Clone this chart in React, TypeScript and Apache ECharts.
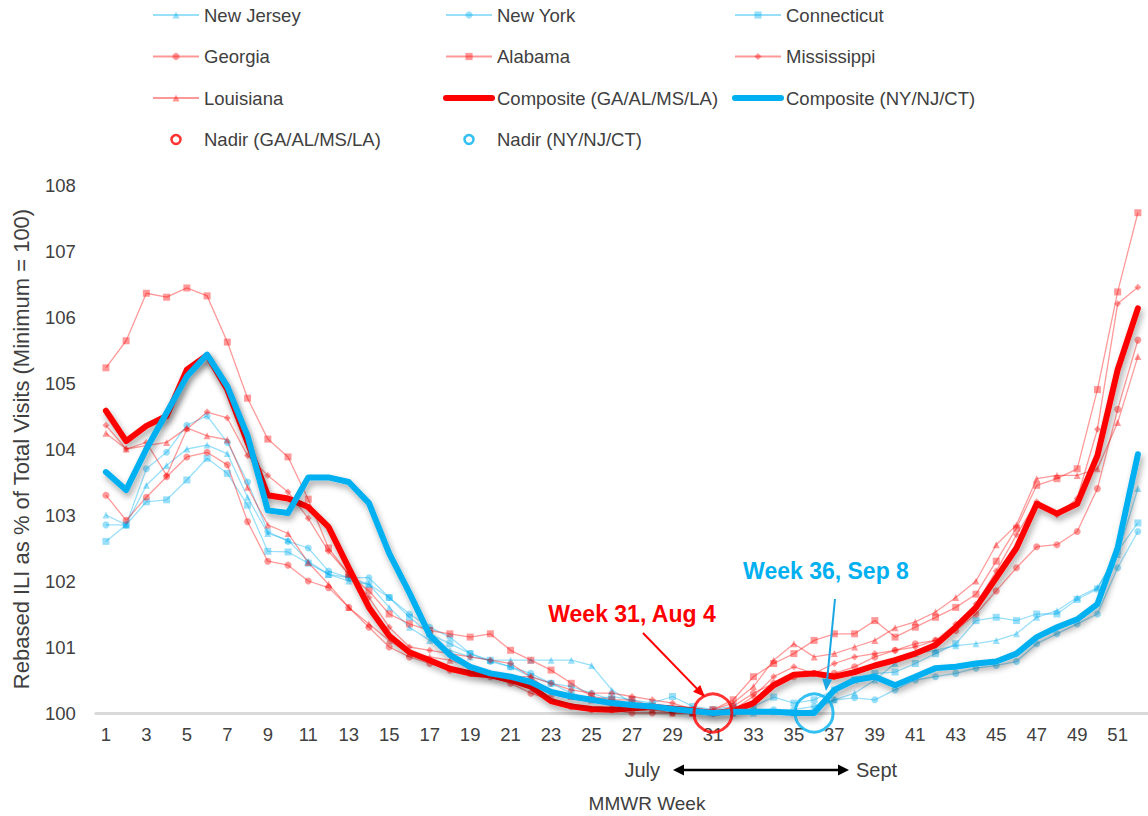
import React, { useEffect, useRef } from "react";
import * as echarts from "echarts";

const weeks = ["1","2","3","4","5","6","7","8","9","10","11","12","13","14","15","16","17","18","19","20","21","22","23","24","25","26","27","28","29","30","31","32","33","34","35","36","37","38","39","40","41","42","43","44","45","46","47","48","49","50","51","52"];

const newJersey = [103.0,102.85,103.45,103.75,104.0,104.06,103.93,103.27,102.72,102.62,102.3,102.1,102.0,101.95,101.6,101.3,101.1,100.95,100.85,100.8,100.8,100.8,100.8,100.8,100.72,100.35,100.15,100.1,100.05,100.02,100.0,100.0,100.0,100.02,100.0,100.05,100.2,100.3,100.5,100.75,100.9,100.95,101.02,101.05,101.1,101.2,101.45,101.55,101.75,101.9,102.4,103.4];
const newYork = [102.85,102.85,103.7,103.95,104.36,104.5,104.1,103.5,102.75,102.6,102.5,102.15,102.05,102.05,101.75,101.5,101.3,101.15,100.9,100.78,100.7,100.6,100.45,100.4,100.3,100.2,100.15,100.1,100.05,100.05,100.0,100.0,100.05,100.05,100.05,100.1,100.2,100.23,100.2,100.35,100.5,100.55,100.6,100.68,100.72,100.78,101.05,101.2,101.35,101.5,102.2,102.75];
const connecticut = [102.6,102.85,103.2,103.23,103.53,103.86,103.63,103.15,102.45,102.44,102.27,102.1,102.05,101.95,101.75,101.45,101.2,101.05,100.9,100.8,100.7,100.55,100.45,100.3,100.2,100.25,100.2,100.15,100.25,100.1,100.05,100.1,100.1,100.24,100.15,100.2,100.35,100.5,100.6,100.62,100.75,100.9,101.05,101.4,101.45,101.4,101.5,101.5,101.72,101.88,102.45,102.88];
const georgia = [103.3,102.92,103.27,103.58,103.88,103.95,103.76,102.9,102.3,102.24,102.0,101.9,101.6,101.3,101.0,100.85,100.75,100.65,100.6,100.55,100.45,100.3,100.2,100.1,100.05,100.05,100.0,100.0,100.0,100.0,100.0,100.1,100.3,100.45,100.55,100.6,100.6,100.7,100.85,100.95,101.05,101.1,101.25,101.5,101.85,102.2,102.52,102.55,102.75,103.4,104.6,105.65];
const alabama = [105.23,105.64,106.36,106.3,106.44,106.32,105.62,104.77,104.15,103.88,103.24,102.5,102.1,101.85,101.5,101.35,101.25,101.2,101.15,101.2,100.95,100.8,100.65,100.45,100.25,100.2,100.2,100.1,100.05,100.0,100.05,100.2,100.55,100.75,100.9,101.1,101.2,101.2,101.4,101.15,101.3,101.45,101.6,101.8,102.3,102.8,103.45,103.55,103.7,104.9,106.38,107.58];
const mississippi = [104.36,104.0,104.1,103.6,104.3,104.56,104.47,103.9,103.6,103.35,102.95,102.45,102.1,101.75,101.3,101.0,100.95,100.9,100.85,100.8,100.75,100.55,100.45,100.35,100.3,100.3,100.25,100.2,100.15,100.05,100.0,100.05,100.25,100.55,100.7,100.6,100.75,100.85,100.9,100.95,101.0,101.1,101.35,101.65,102.15,102.7,103.2,103.0,103.25,104.3,106.2,106.45];
const louisiana = [104.24,104.0,104.05,104.1,104.32,104.2,104.14,103.42,102.85,102.72,102.28,101.95,101.6,101.35,101.1,100.9,100.85,100.8,100.7,100.6,100.55,100.55,100.3,100.25,100.2,100.1,100.1,100.05,100.0,100.0,100.05,100.15,100.4,100.8,101.05,100.85,100.9,101.0,101.1,101.29,101.38,101.53,101.75,102.0,102.55,102.85,103.55,103.6,103.6,103.7,104.4,105.4];
const compositeSouth = [104.58,104.12,104.35,104.5,105.2,105.42,104.9,104.1,103.3,103.25,103.12,102.82,102.2,101.6,101.17,100.92,100.8,100.67,100.6,100.57,100.5,100.4,100.18,100.1,100.06,100.05,100.07,100.09,100.07,100.04,100.0,100.03,100.15,100.42,100.58,100.6,100.55,100.62,100.72,100.8,100.9,101.03,101.3,101.6,102.05,102.5,103.17,103.02,103.17,103.9,105.2,106.13];
const compositeNorth = [103.65,103.38,104.0,104.55,105.1,105.43,104.95,104.2,103.07,103.03,103.57,103.57,103.5,103.18,102.42,101.82,101.18,100.88,100.7,100.6,100.55,100.47,100.32,100.25,100.2,100.15,100.12,100.1,100.06,100.03,100.0,100.02,100.02,100.02,100.0,100.0,100.35,100.5,100.55,100.42,100.55,100.68,100.7,100.75,100.78,100.9,101.15,101.3,101.42,101.65,102.5,103.92];

const nadirSouth = [["31", 100]];
const nadirNorth = [["36", 100]];

const yTicks = { min: 100, max: 108, interval: 1 };

const RED = "#ff0000";
const BLUE = "#00b0f0";
const FONT = "'Liberation Sans', Arial, sans-serif";
const TEXT = "#404040";

function stateSeries(name: string, data: number[], color: string, symbol: string) {
  return {
    name,
    type: "line",
    data,
    symbol,
    symbolSize: 7,
    clip: false,
    z: 2,
    lineStyle: { color, width: 1.3, opacity: 0.4 },
    itemStyle: { color, opacity: 0.4 },
  };
}

function compositeSeries(name: string, data: number[], color: string, z: number) {
  return {
    name,
    type: "line",
    data,
    symbol: "none",
    clip: false,
    z,
    lineStyle: {
      color,
      width: 6,
      cap: "round",
      join: "round",
      shadowColor: "rgba(0,0,0,0.35)",
      shadowBlur: 6,
      shadowOffsetX: 2,
      shadowOffsetY: 4,
    },
    itemStyle: { color },
  };
}

function arrow(x1: number, y1: number, x2: number, y2: number, color: string, width: number, hl: number, hw: number, both: boolean) {
  const dx = x2 - x1, dy = y2 - y1;
  const L = Math.hypot(dx, dy);
  const ux = dx / L, uy = dy / L;
  const px = -uy, py = ux;
  const els: any[] = [];
  const sx = both ? x1 + ux * hl * 0.8 : x1;
  const sy = both ? y1 + uy * hl * 0.8 : y1;
  els.push({ type: "line", z: 100, shape: { x1: sx, y1: sy, x2: x2 - ux * hl * 0.8, y2: y2 - uy * hl * 0.8 }, style: { stroke: color, lineWidth: width } });
  const head = (tx: number, ty: number, dirx: number, diry: number) => ({
    type: "polygon",
    z: 100,
    shape: {
      points: [
        [tx, ty],
        [tx - dirx * hl + px * hw, ty - diry * hl + py * hw],
        [tx - dirx * hl - px * hw, ty - diry * hl - py * hw],
      ],
    },
    style: { fill: color },
  });
  els.push(head(x2, y2, ux, uy));
  if (both) els.push(head(x1, y1, -ux, -uy));
  return els;
}

const legendBase = {
  orient: "vertical",
  top: 5,
  padding: 0,
  itemWidth: 46,
  itemHeight: 9,
  itemGap: 21.5,
  selectedMode: false,
  textStyle: { fontSize: 18.5, color: TEXT, fontFamily: FONT, lineHeight: 20 },
};

const compositeLegendItem = (name: string) => ({
  name,
  itemStyle: { opacity: 0 },
  lineStyle: { width: 6, cap: "round", opacity: 1, shadowBlur: 0, shadowOffsetX: 0, shadowOffsetY: 0, shadowColor: "rgba(0,0,0,0)" },
});

export default function App() {
  const ref = useRef<HTMLDivElement>(null);
  useEffect(() => {
    document.body.style.margin = "0";
    const chart = echarts.init(ref.current!, undefined, { renderer: "svg" });
    const option: any = {
      animation: false,
      backgroundColor: "#ffffff",
      textStyle: { fontFamily: FONT },
      legend: [
        {
          ...legendBase,
          left: 152,
          data: [
            "New Jersey",
            "Georgia",
            "Louisiana",
            { name: "Nadir (GA/AL/MS/LA)", itemStyle: { color: "#ffffff", borderColor: RED, borderWidth: 2.5 } },
          ],
        },
        {
          ...legendBase,
          left: 443,
          data: [
            "New York",
            "Alabama",
            compositeLegendItem("Composite (GA/AL/MS/LA)"),
            { name: "Nadir (NY/NJ/CT)", itemStyle: { color: "#ffffff", borderColor: BLUE, borderWidth: 2.5 } },
          ],
        },
        {
          ...legendBase,
          left: 732,
          data: ["Connecticut", "Mississippi", compositeLegendItem("Composite (NY/NJ/CT)")],
        },
      ],
      grid: { left: 95.8, right: -7.6, top: 185, bottom: 103, containLabel: false },
      xAxis: {
        type: "category",
        data: weeks,
        boundaryGap: true,
        axisLine: { show: true, lineStyle: { color: "#d9d9d9", width: 3 } },
        axisTick: { show: false },
        axisLabel: { interval: 1, fontSize: 18.5, color: TEXT, margin: 12, fontFamily: FONT },
        splitLine: { show: false },
      },
      yAxis: {
        type: "value",
        min: yTicks.min,
        max: yTicks.max,
        interval: yTicks.interval,
        axisLine: { show: false },
        axisTick: { show: false },
        splitLine: { show: false },
        axisLabel: { fontSize: 18.5, color: TEXT, margin: 20, fontFamily: FONT },
        name: "Rebased ILI as % of Total Visits (Minimum = 100)",
        nameLocation: "middle",
        nameGap: 63,
        nameTextStyle: { fontSize: 22, color: TEXT, fontFamily: FONT },
      },
      series: [
        stateSeries("New Jersey", newJersey, BLUE, "triangle"),
        stateSeries("New York", newYork, BLUE, "circle"),
        stateSeries("Connecticut", connecticut, BLUE, "rect"),
        stateSeries("Georgia", georgia, RED, "circle"),
        stateSeries("Alabama", alabama, RED, "rect"),
        stateSeries("Mississippi", mississippi, RED, "diamond"),
        stateSeries("Louisiana", louisiana, RED, "triangle"),
        compositeSeries("Composite (GA/AL/MS/LA)", compositeSouth, RED, 5),
        compositeSeries("Composite (NY/NJ/CT)", compositeNorth, BLUE, 6),
        {
          name: "Nadir (GA/AL/MS/LA)",
          type: "scatter",
          data: nadirSouth,
          symbol: "circle",
          symbolSize: 38,
          clip: false,
          z: 8,
          itemStyle: { color: "rgba(255,255,255,0)", borderColor: RED, borderWidth: 3 },
        },
        {
          name: "Nadir (NY/NJ/CT)",
          type: "scatter",
          data: nadirNorth,
          symbol: "circle",
          symbolSize: 38,
          clip: false,
          z: 8,
          itemStyle: { color: "rgba(255,255,255,0)", borderColor: BLUE, borderWidth: 3 },
        },
      ],
      graphic: [
        {
          type: "text",
          z: 100,
          x: 632,
          y: 614,
          style: { text: "Week 31, Aug 4", fill: RED, font: `bold 23px ${FONT}`, textAlign: "center", textVerticalAlign: "middle" },
        },
        {
          type: "text",
          z: 100,
          x: 826,
          y: 571,
          style: { text: "Week 36, Sep 8", fill: BLUE, font: `bold 23px ${FONT}`, textAlign: "center", textVerticalAlign: "middle" },
        },
        ...arrow(643, 633, 705, 697, RED, 2, 12, 5, false),
        ...arrow(835, 599, 826, 691, "#1aa7e3", 2, 12, 5, false),
        ...arrow(673, 770, 849, 770, "#000000", 2.5, 11, 5.5, true),
        {
          type: "text",
          z: 100,
          x: 660,
          y: 770,
          style: { text: "July", fill: TEXT, font: `20px ${FONT}`, textAlign: "right", textVerticalAlign: "middle" },
        },
        {
          type: "text",
          z: 100,
          x: 856,
          y: 770,
          style: { text: "Sept", fill: TEXT, font: `20px ${FONT}`, textAlign: "left", textVerticalAlign: "middle" },
        },
        {
          type: "text",
          z: 100,
          x: 647,
          y: 803,
          style: { text: "MMWR Week", fill: TEXT, font: `19px ${FONT}`, textAlign: "center", textVerticalAlign: "middle" },
        },
      ],
    };
    chart.setOption(option);
    return () => chart.dispose();
  }, []);
  return <div ref={ref} style={{ width: 1148, height: 816 }} />;
}
